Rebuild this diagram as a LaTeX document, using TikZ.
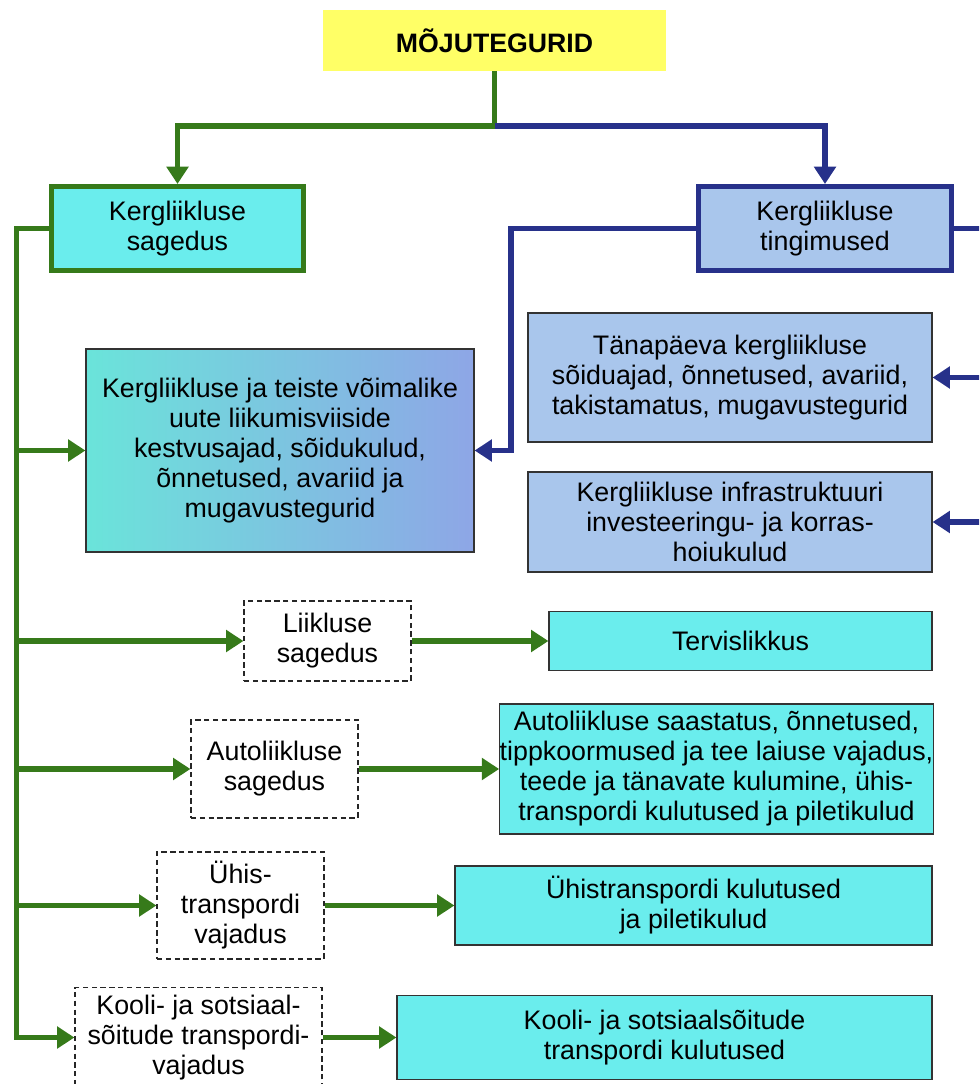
\documentclass[tikz,border=0pt]{standalone}
\usepackage{fontspec}
\setmainfont{Liberation Sans}
\usetikzlibrary{arrows.meta}
\definecolor{grn}{RGB}{54,122,26}
\definecolor{dblue}{RGB}{39,49,138}
\definecolor{cyanbox}{RGB}{106,237,237}
\definecolor{lblue}{RGB}{169,198,236}
\definecolor{ylw}{RGB}{255,255,102}
\definecolor{gradl}{RGB}{106,228,218}
\definecolor{gradr}{RGB}{142,166,230}
\tikzset{
	px/.style 2 args={minimum width=#1*0.75pt,minimum height=#2*0.75pt},
	txt/.style={inner sep=0pt,align=center,font=\fontsize{20.1}{22.5}\selectfont},
	cbox/.style={txt,draw=black!80,line width=0.9pt,fill=cyanbox},
	bbox/.style={txt,draw=black!80,line width=0.9pt,fill=lblue},
	dashbox/.style={txt,draw=black!85,line width=0.9pt,dash pattern=on 4pt off 2.6pt},
	gline/.style={grn,line width=4.4pt},
	bline/.style={dblue,line width=4.4pt},
	glink/.style={gline,->},
	blink/.style={bline,->}
}
\begin{document}
\begin{tikzpicture}[>={Triangle[length=13pt,width=16pt]},x=0.75pt,y=-0.75pt]
	\useasboundingbox (0,0) rectangle (979,1084);
	\clip (0,0) rectangle (979,1084);
	\node[txt,fill=ylw,px={343}{61},font=\fontsize{20}{22.5}\selectfont\bfseries] (top) at (494.5,40.5) {MÕJUTEGURID};
	\node[txt,draw=grn,line width=3.75pt,fill=cyanbox,px={252}{84}] (freq) at (177.5,228.5) {Kergliikluse\\sagedus};
	\node[txt,draw=dblue,line width=3.75pt,fill=lblue,px={253}{84}] (cond) at (825,228.5) {Kergliikluse\\tingimused};
	\node[txt,draw=black!80,line width=0.9pt,left color=gradl,right color=gradr,px={388}{203}] (grad) at (280,450.5) {Kergliikluse ja teiste võimalike\\uute liikumisviiside\\kestvusajad, sõidukulud,\\õnnetused, avariid ja\\mugavustegurid};
	\node[bbox,px={404}{129}] (now) at (730,377.5) {Tänapäeva kergliikluse\\sõiduajad, õnnetused, avariid,\\takistamatus, mugavustegurid};
	\node[bbox,px={404}{100}] (infra) at (730,522) {Kergliikluse infrastruktuuri\\investeeringu- ja korras-\\hoiukulud};
	\node[dashbox,px={167}{80}] (traf) at (327.5,641) {Liikluse\\sagedus};
	\node[cbox,px={383}{59}] (health) at (740.5,641) {Tervislikkus};
	\node[dashbox,px={167}{98}] (car) at (274.5,769) {Autoliikluse\\sagedus};
	\node[cbox,px={431}{130}] (carfx) at (716.5,769) {Autoliikluse saastatus, õnnetused,\\tippkoormused ja tee laiuse vajadus,\\teede ja tänavate kulumine, ühis-\\transpordi kulutused ja piletikulud};
	\node[dashbox,px={167}{107}] (pt) at (240.5,905.5) {Ühis-\\transpordi\\vajadus};
	\node[cbox,px={477}{79}] (ptfx) at (693.5,905.5) {Ühistranspordi kulutused\\ja piletikulud};
	\node[dashbox,px={247}{100}] (school) at (198.5,1037.5) {Kooli- ja sotsiaal-\\sõitude transpordi-\\vajadus};
	\node[cbox,px={535}{84}] (schoolfx) at (664.5,1037.5) {Kooli- ja sotsiaalsõitude\\transpordi kulutused};
	\coordinate (split) at (494.5,126);
	\coordinate (tbot) at (16.5,1037.5);
	\coordinate (bturn) at (511,450.5);
	\coordinate (r1) at (990,228.5);
	\coordinate (r2) at (990,377.5);
	\coordinate (r3) at (990,522);
	\draw[gline] (top.south)--(split);
	\draw[glink] (split)-|(freq.north);
	\draw[blink] (split)-|(cond.north);
	\draw[glink] (freq.west)-|(tbot)--(school.west);
	\draw[glink] (tbot|-grad.west)--(grad.west);
	\draw[glink] (tbot|-traf.west)--(traf.west);
	\draw[glink] (tbot|-car.west)--(car.west);
	\draw[glink] (tbot|-pt.west)--(pt.west);
	\draw[glink] (traf)--(health);
	\draw[glink] (car)--(carfx);
	\draw[glink] (pt)--(ptfx);
	\draw[glink] (school)--(schoolfx);
	\draw[blink] (cond.west)-|(bturn)--(grad.east);
	\draw[bline] (cond.east)--(r1);
	\draw[blink] (r2)--(now.east);
	\draw[blink] (r3)--(infra.east);
\end{tikzpicture}
\end{document}
